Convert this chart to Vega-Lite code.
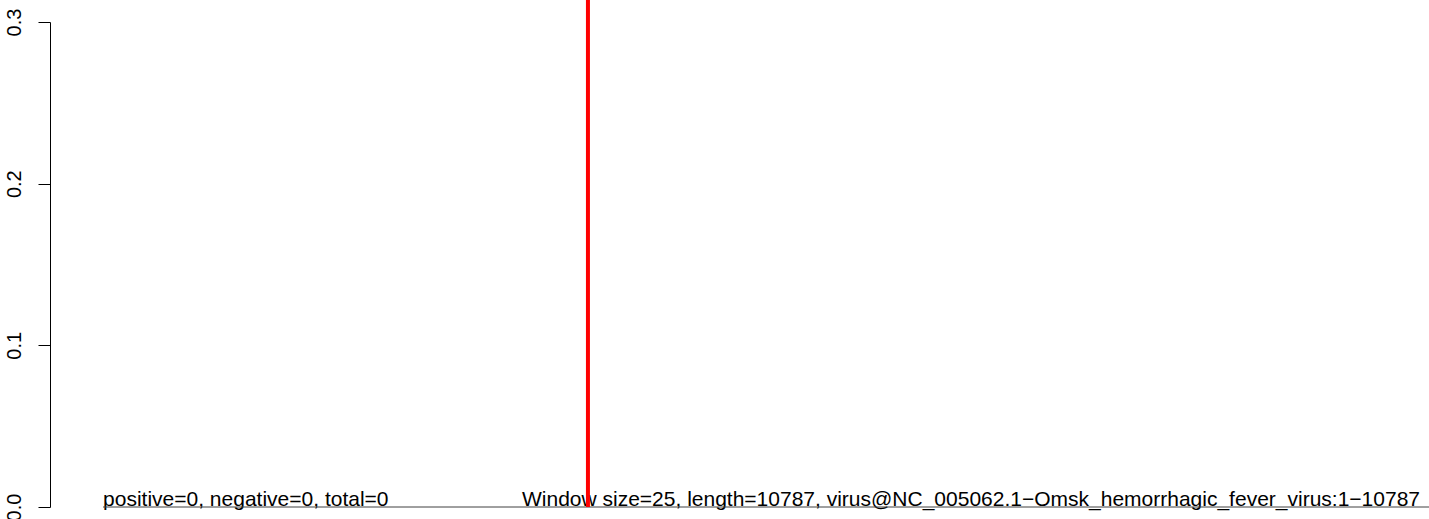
{
  "$schema": "https://vega.github.io/schema/vega-lite/v6.json",
  "width": 1379,
  "height": 485,
  "autosize": {"type": "none"},
  "padding": {"left": 50, "top": 22, "right": 0, "bottom": 12},
  "background": "white",
  "config": {"view": {"stroke": null}, "font": "Liberation Sans"},
  "datasets": {
    "baseline": [{"start": 415, "end": 10787, "level": 0}],
    "marker": [{"pos": 4208, "low": 0, "high": 0.3136}],
    "labels": [
      {"pos": 415, "level": 0, "label": "positive=0, negative=0, total=0"},
      {"pos": 3692, "level": 0, "label": "Window size=25, length=10787, virus@NC_005062.1−Omsk_hemorrhagic_fever_virus:1−10787"}
    ]
  },
  "layer": [
    {
      "data": {"name": "labels"},
      "mark": {"type": "text", "align": "left", "baseline": "alphabetic", "fontSize": 21, "color": "black", "dy": -1},
      "encoding": {
        "x": {"field": "pos", "type": "quantitative", "scale": {"domain": [0, 10787], "nice": false, "zero": false}, "axis": null},
        "y": {
          "field": "level", "type": "quantitative",
          "scale": {"domain": [0, 0.3], "nice": false, "zero": true},
          "axis": {
            "values": [0, 0.1, 0.2, 0.3], "format": ".1f", "title": null, "grid": false,
            "labelAngle": 270, "labelAlign": "center", "labelBaseline": "alphabetic",
            "tickSize": 12, "labelPadding": 18, "labelFontSize": 20, "labelColor": "black",
            "domainColor": "black", "tickColor": "black", "domainWidth": 1, "tickWidth": 1,
            "labelFont": "Liberation Sans"
          }
        },
        "text": {"field": "label"}
      }
    },
    {
      "data": {"name": "baseline"},
      "mark": {"type": "rule", "color": "#404040", "strokeWidth": 1},
      "encoding": {
        "x": {"field": "start", "type": "quantitative"},
        "x2": {"field": "end"},
        "y": {"field": "level", "type": "quantitative"}
      }
    },
    {
      "data": {"name": "marker"},
      "mark": {"type": "rule", "color": "#ff0000", "strokeWidth": 4},
      "encoding": {
        "x": {"field": "pos", "type": "quantitative"},
        "y": {"field": "low", "type": "quantitative"},
        "y2": {"field": "high"}
      }
    }
  ]
}
